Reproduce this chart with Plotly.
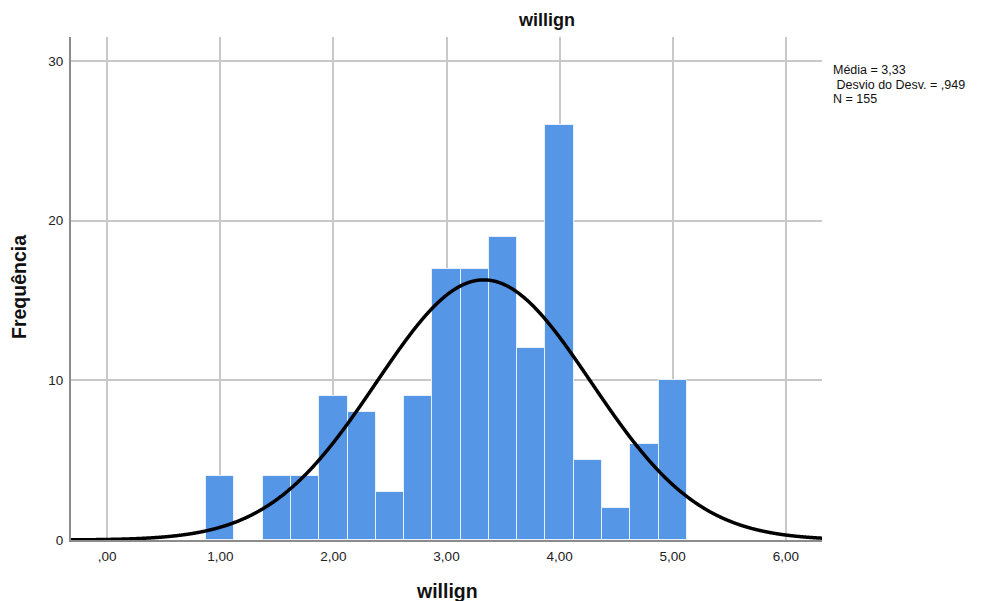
import numpy as np
import plotly.graph_objects as go

bin_centers = [1.0, 1.5, 1.75, 2.0, 2.25, 2.5, 2.75, 3.0, 3.25, 3.5, 3.75, 4.0, 4.25, 4.5, 4.75, 5.0]
counts = [4, 4, 4, 9, 8, 3, 9, 17, 17, 19, 12, 26, 5, 2, 6, 10]
bin_width = 0.25
mean, sd, n = 3.33, 0.949, 155
x_ticks = [0, 1, 2, 3, 4, 5, 6]
x_ticktext = [",00", "1,00", "2,00", "3,00", "4,00", "5,00", "6,00"]
y_ticks = [0, 10, 20, 30]
x_range = [-0.32, 6.32]
y_range = [0, 31.5]
stats_lines = ["Média = 3,33", " Desvio do Desv. = ,949", "N = 155"]

xc = np.linspace(x_range[0], x_range[1], 1200)
yc = n * bin_width / (sd * np.sqrt(2 * np.pi)) * np.exp(-0.5 * ((xc - mean) / sd) ** 2)

fig = go.Figure()
fig.add_trace(go.Bar(x=bin_centers, y=counts, width=bin_width,
                     marker=dict(color="#5596e6", line=dict(color="#e8f0fb", width=1)),
                     showlegend=False))
fig.add_trace(go.Scatter(x=xc, y=yc, mode="lines", line=dict(color="black", width=3.5, shape="spline"),
                         showlegend=False))

font = "Liberation Sans, Arial, sans-serif"
# page offset of 8px (default body margin)
L, R, T, B = 71, 822, 37, 540
fig.update_layout(
    width=986, height=601,
    margin=dict(l=L - 8, r=986 - R + 8, t=T - 8, b=601 - B + 8, autoexpand=False),
    paper_bgcolor="white", plot_bgcolor="white",
    font=dict(family=font, size=13.5, color="#222"),
    bargap=0,
    xaxis=dict(range=x_range, tickvals=x_ticks, ticktext=x_ticktext, showgrid=True,
               gridcolor="#c8c8c8", gridwidth=1.5, zeroline=False, showline=True,
               linecolor="#8c8c8c", linewidth=2, ticks="", ticklabelstandoff=3, automargin=False),
    yaxis=dict(range=y_range, tickvals=y_ticks, showgrid=True, gridcolor="#c8c8c8", gridwidth=1.5,
               zeroline=False, showline=True, linecolor="#8c8c8c", linewidth=2, ticks="",
               ticklabelstandoff=3, automargin=False),
)
W, H = R - L, B - T
fig.add_annotation(text="<b>willign</b>", x=(546 - L) / W, y=1 + (T - 20) / H, xref="paper", yref="paper",
                   showarrow=False, yanchor="middle", font=dict(size=18, family=font, color="#111"))
fig.add_annotation(text="<b>willign</b>", x=(447 - L) / W, y=-(591 - B) / H, xref="paper", yref="paper",
                   showarrow=False, yanchor="middle", font=dict(size=19.5, family=font, color="#111"))
fig.add_annotation(text="<b>Frequência</b>", x=-(L - 19) / W, y=(B - 287) / H, xref="paper", yref="paper",
                   showarrow=False, textangle=-90, xanchor="center", yanchor="middle",
                   font=dict(size=19.5, family=font, color="#111"))
for i, line in enumerate(stats_lines):
    fig.add_annotation(text=line.replace(" ", "&nbsp;", 1) if line.startswith(" ") else line,
                       x=(831 - L) / W, y=1 - (70 + 14.5 * i - T) / H, xref="paper", yref="paper",
                       showarrow=False, align="left", xanchor="left", yanchor="middle",
                       font=dict(size=12.5, family=font, color="#111"))
fig.write_html("out.html")
